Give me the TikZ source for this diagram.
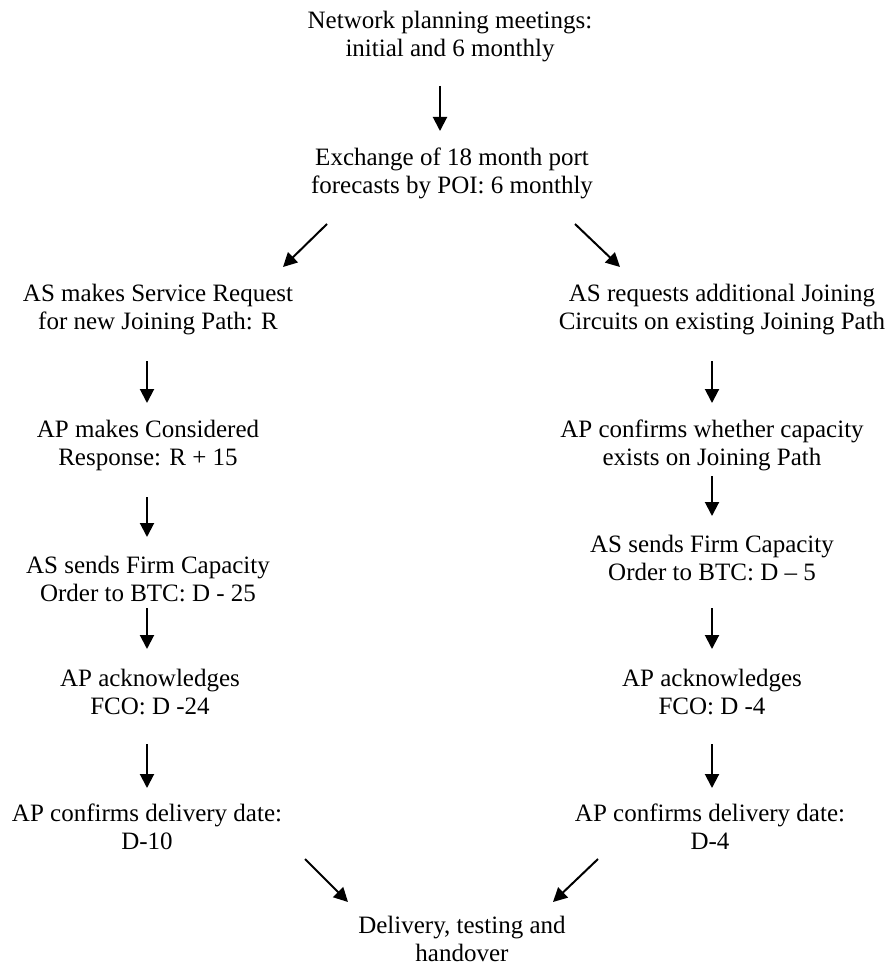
\documentclass[tikz,border=0pt]{standalone}
\usepackage{fontspec}
\setmainfont{Liberation Serif}
\usetikzlibrary{arrows.meta}

\tikzset{
  stage/.style={align=center,anchor=base,inner sep=0pt,font=\fontsize{25}{28}\selectfont},
  arr/.style={line width=2pt,-{Triangle[length=14pt,width=14pt]}}
}

\begin{document}
\begin{tikzpicture}[x=1pt,y=-1pt]
  \useasboundingbox (0,0) rectangle (890,965);
  % common start
  \node[stage] (plan) at (450,57) {Network planning meetings:\\initial and 6 monthly};
  \node[stage] (fcst) at (452,194) {Exchange of 18 month port\\forecasts by POI: 6 monthly};
  % new joining path
  \node[stage] (newreq) at (158,329) {AS makes Service Request\\for new Joining Path: R};
  \node[stage] (newresp) at (148,465) {AP makes Considered\\Response: R + 15};
  \node[stage] (newfco) at (148,601) {AS sends Firm Capacity\\Order to BTC: D - 25};
  \node[stage] (newack) at (150,714) {AP acknowledges\\FCO: D -24};
  \node[stage] (newdate) at (147,849) {AP confirms delivery date:\\D-10};
  % existing joining path
  \node[stage] (addreq) at (722,329) {AS requests additional Joining\\Circuits on existing Joining Path};
  \node[stage] (addcap) at (712,465) {AP confirms whether capacity\\exists on Joining Path};
  \node[stage] (addfco) at (712,580) {AS sends Firm Capacity\\Order to BTC: D \textendash{} 5};
  \node[stage] (addack) at (712,714) {AP acknowledges\\FCO: D -4};
  \node[stage] (adddate) at (710,849) {AP confirms delivery date:\\D-4};
  % end
  \node[stage] (deliv) at (462,961) {Delivery, testing and\\handover};

  \draw[arr] ([shift={(-10,29)}]plan.base) -- ([shift={(-12,-63)}]fcst.base);
  \draw[arr] ([shift={(-125,30)}]fcst.base) -- ([shift={(125,-62)}]newreq.base);
  \draw[arr] ([shift={(123,30)}]fcst.base) -- ([shift={(-102,-62)}]addreq.base);
  \draw[arr] ([shift={(-11,32)}]newreq.base) -- ([shift={(-1,-62)}]newresp.base);
  \draw[arr] ([shift={(-1,32)}]newresp.base) -- ([shift={(-1,-64)}]newfco.base);
  \draw[arr] ([shift={(-1,7)}]newfco.base) -- ([shift={(-3,-65)}]newack.base);
  \draw[arr] ([shift={(-3,30)}]newack.base) -- ([shift={(0,-61)}]newdate.base);
  \draw[arr] ([shift={(-10,32)}]addreq.base) -- ([shift={(0,-62)}]addcap.base);
  \draw[arr] ([shift={(0,11)}]addcap.base) -- ([shift={(0,-64)}]addfco.base);
  \draw[arr] ([shift={(0,28)}]addfco.base) -- ([shift={(0,-65)}]addack.base);
  \draw[arr] ([shift={(0,30)}]addack.base) -- ([shift={(2,-61)}]adddate.base);
  \draw[arr] ([shift={(158,10)}]newdate.base) -- ([shift={(-114,-59)}]deliv.base);
  \draw[arr] ([shift={(-112,10)}]adddate.base) -- ([shift={(91,-59)}]deliv.base);
\end{tikzpicture}
\end{document}
